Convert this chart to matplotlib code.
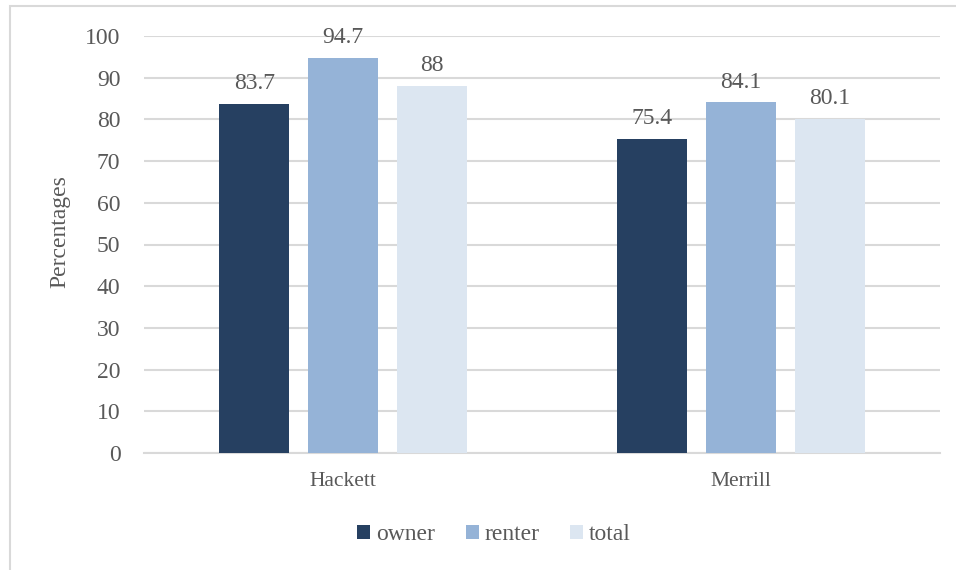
import matplotlib.pyplot as plt
import numpy as np
from matplotlib.patches import Rectangle

towns = ['Hackett', 'Merrill']
owner = [83.7, 75.4]
renter = [94.7, 84.1]
total = [88, 80.1]
series = ['owner', 'renter', 'total']
colors = ['#264061', '#95b3d7', '#dce6f1']
value_labels = [['83.7', '75.4'], ['94.7', '84.1'], ['88', '80.1']]

plt.rcParams['font.family'] = ['Liberation Serif', 'DejaVu Serif']
txt = '#595959'

fig = plt.figure(figsize=(9.56, 5.70), dpi=100)
# chart frame, only the left and top edges fall inside the image
fig.patches.append(Rectangle((10 / 956, -0.1), 1.2, 1 - 6 / 570 + 0.1,
                             transform=fig.transFigure, fill=False,
                             edgecolor='#d9d9d9', linewidth=1.5))

ax = fig.add_axes([144 / 956, 1 - 453 / 570, 796 / 956, 417 / 570])
x = np.arange(len(towns))
step = 0.223
width = 0.176
for i, (vals, name, c) in enumerate(zip([owner, renter, total], series, colors)):
    pos = x + (i - 1) * step
    ax.bar(pos, vals, width, color=c, label=name, zorder=3)
    for p, v, lab in zip(pos, vals, value_labels[i]):
        ax.annotate(lab, (p, v), xytext=(0, 7), textcoords='offset points',
                    ha='center', va='bottom', fontsize=17, color=txt)

ax.set_xlim(-0.5, 1.5)
ax.set_ylim(0, 100)
ax.set_yticks(range(0, 101, 10))
ax.set_xticks(x)
ax.set_xticklabels(towns)
ax.tick_params(axis='both', length=0, labelcolor=txt)
ax.tick_params(axis='y', pad=17, labelsize=17)
ax.tick_params(axis='x', pad=14, labelsize=15.5)
ax.grid(axis='y', color='#d9d9d9', linewidth=1.5, zorder=0)
for s in ['top', 'right', 'left']:
    ax.spines[s].set_visible(False)
ax.spines['bottom'].set_color('#d9d9d9')
ax.spines['bottom'].set_linewidth(1.5)
ax.set_ylabel('Percentages', fontsize=17, color=txt)
ax.yaxis.set_label_coords(-0.093, 0.532)

ax.legend(loc='center', bbox_to_anchor=(494 / 956, 1 - 535 / 570),
          bbox_transform=fig.transFigure, ncol=3, frameon=False,
          fontsize=17, labelcolor=txt, handlelength=0.55, handleheight=0.55,
          handletextpad=0.25, columnspacing=1.3)

fig.savefig('out.png', dpi=100)
